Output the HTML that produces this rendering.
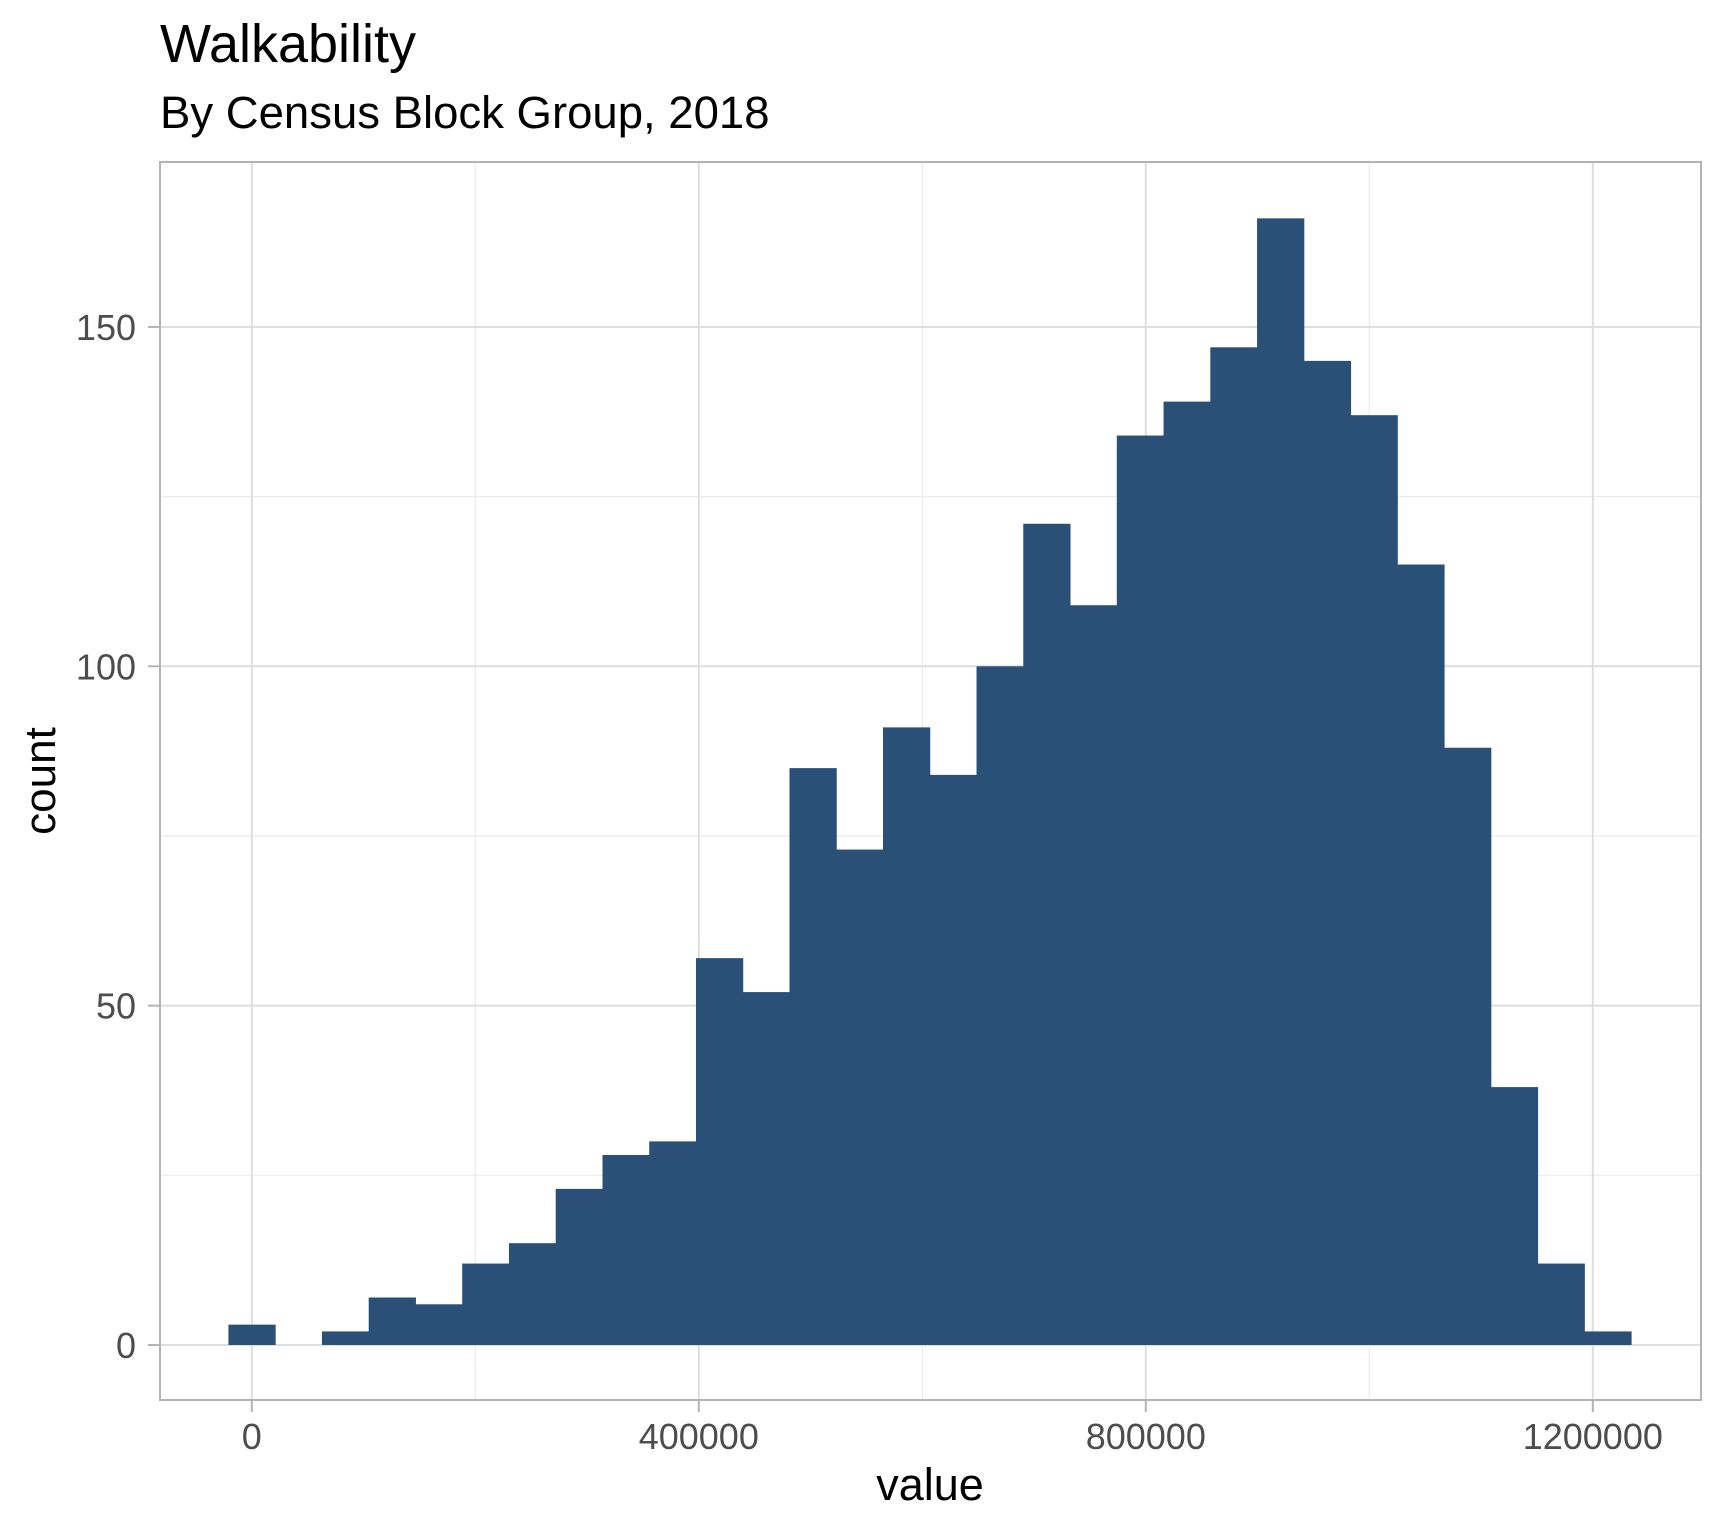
<!DOCTYPE html>
<html><head><meta charset="utf-8"><style>
body{margin:0;background:#fff}
svg{display:block;font-family:"Liberation Sans",Arial,sans-serif}
</style></head><body>
<svg id="chart" width="1724" height="1533" viewBox="0 0 1724 1533" xmlns="http://www.w3.org/2000/svg">
<rect width="1724" height="1533" fill="#fff"/>
<text x="160" y="62" font-size="54" fill="#000">Walkability</text>
<text x="160" y="128" font-size="45.5" fill="#000">By Census Block Group, 2018</text>
<g id="grid"></g>
<g id="bars"></g>
<rect x="160" y="162" width="1541" height="1238" fill="none" stroke="#b3b3b3" stroke-width="2"/>
<g id="axes"></g>
<text x="930" y="1500" font-size="45" text-anchor="middle" fill="#000">value</text>
<text transform="translate(55,781) rotate(-90)" font-size="44" text-anchor="middle" fill="#000">count</text>
</svg>
<script>
const binWidth = 41840;
const counts = [3,0,2,7,6,12,15,23,28,30,57,52,85,73,91,84,100,121,109,134,139,147,166,145,137,115,88,38,12,2];
const xTicks = [0,400000,800000,1200000];
const xMinor = [200000,600000,1000000];
const yTicks = [0,50,100,150];
const yMinor = [25,75,125];
const PL=160,PR=1701,PT=162,PB=1400;
function xs(v){return 251.8 + v*(223.5/200000);}
function ys(c){return 1345 - c*6.787;}
const NS="http://www.w3.org/2000/svg";
function mk(tag,attrs,parent){const e=document.createElementNS(NS,tag);for(const k in attrs)e.setAttribute(k,attrs[k]);parent.appendChild(e);return e;}
const grid=document.getElementById('grid'),bars=document.getElementById('bars'),axes=document.getElementById('axes');
for(const v of xMinor){const l=mk('line',{x1:xs(v),x2:xs(v),y1:PT,y2:PB,stroke:'#ebebeb','stroke-width':1.2},grid);

}
for(const v of yMinor){const l=mk('line',{x1:PL,x2:PR,y1:ys(v),y2:ys(v),stroke:'#ebebeb','stroke-width':1.2},grid);

}
for(const v of xTicks){const l=mk('line',{x1:xs(v),x2:xs(v),y1:PT,y2:PB,stroke:'#dedede','stroke-width':2},grid);


const t=mk('line',{x1:xs(v),x2:xs(v),y1:PB,y2:PB+12,stroke:'#b3b3b3','stroke-width':2},axes);


const tx=mk('text',{x:xs(v),y:1449,'font-size':36,'text-anchor':'middle',fill:'#4d4d4d'},axes);
tx.textContent=String(v);

}
for(const v of yTicks){const l=mk('line',{x1:PL,x2:PR,y1:ys(v),y2:ys(v),stroke:'#dedede','stroke-width':2},grid);


const t=mk('line',{x1:PL-12,x2:PL,y1:ys(v),y2:ys(v),stroke:'#b3b3b3','stroke-width':2},axes);


const tx=mk('text',{x:136,y:ys(v)+13,'font-size':36,'text-anchor':'end',fill:'#4d4d4d'},axes);
tx.textContent=String(v);

}
counts.forEach((c,i)=>{if(c<=0)return;const x0=xs((i-0.5)*binWidth),x1=xs((i+0.5)*binWidth);
const r=mk('rect',{x:x0,y:ys(c),width:x1-x0+0.5,height:ys(0)-ys(c),fill:'#2a5078'},bars);

});
</script>
</body></html>
